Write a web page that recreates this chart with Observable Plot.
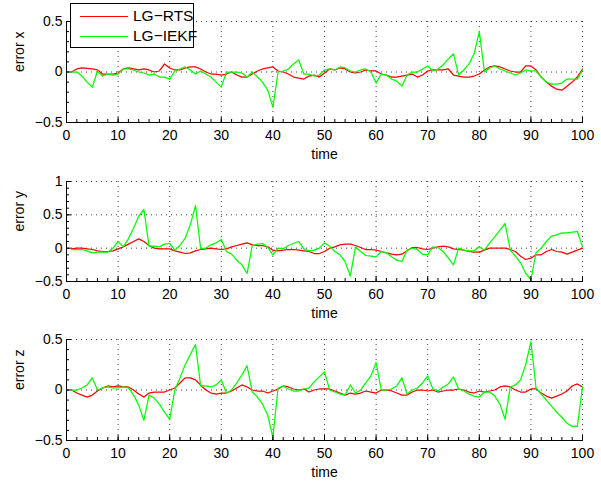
<!DOCTYPE html>
<html>
<head>
<meta charset="utf-8">
<script src="https://cdn.jsdelivr.net/npm/d3@7"></script>
<script src="https://cdn.jsdelivr.net/npm/@observablehq/plot@0.6"></script>
<style>
  html, body { margin: 0; padding: 0; background: #fff; }
  #chart { position: relative; width: 601px; height: 482px; font-family: "Liberation Sans", Arial, Helvetica, sans-serif; }
  #chart svg { display: block; }
  .legend { position: absolute; left: 70px; top: 3px; width: 124px; height: 45px; border: 1px solid #000; background: #fff; box-sizing: border-box; font-size: 15.5px; }
  .legend .row { position: absolute; left: 0; height: 18px; width: 123px; }
  .legend .sw { position: absolute; left: 9px; width: 48px; top: 9px; height: 0; border-top: 1.3px solid; }
  .legend .lb { position: absolute; left: 62px; top: 0; line-height: 18px; white-space: nowrap; }
</style>
</head>
<body>
<div id="chart"></div>
<script>
// ---- data ----
const time = d3.range(1, 101);
const seriesNames = ["LG\u2212RTS", "LG\u2212IEKF"];
const seriesColors = ["#ff0000", "#00ff00"];
const panelLabels = ["error x", "error y", "error z"];
const xTickValues = [0, 10, 20, 30, 40, 50, 60, 70, 80, 90, 100];
const yTicks1 = [-0.5, 0, 0.5];
const yTicks2 = [-0.5, 0, 0.5, 1];
const yTicks3 = [-0.5, 0, 0.5];

const xRTS = [0,0.03,0.04,0.035,0.03,0.02,-0.02,-0.02,-0.02,-0.01,
  0.03,0.04,0.03,0.02,0.03,0.02,0.0,0.01,0.08,0.04,
  0.02,0.02,0.04,0.05,0.05,0.03,0.0,-0.02,-0.02,-0.03,
  -0.02,0.0,-0.03,-0.05,-0.05,-0.02,0.01,0.03,0.04,0.05,
  0.01,0.0,-0.02,-0.05,-0.06,-0.07,-0.04,-0.03,-0.05,-0.01,
  0.03,0.02,0.04,0.03,0.0,-0.01,0.0,0.02,0.01,0.01,
  -0.02,-0.03,-0.05,-0.05,-0.04,-0.03,-0.02,-0.05,-0.03,0.01,
  0.02,0.02,0.02,0.03,-0.03,-0.04,-0.05,-0.05,-0.04,-0.02,
  0.02,0.05,0.06,0.05,0.03,0.01,0.0,0.0,0.06,0.06,
  0.02,-0.05,-0.1,-0.14,-0.17,-0.18,-0.14,-0.1,-0.05,0.03];
const xIEKF = [0,0,-0.04,-0.1,-0.15,0.01,-0.04,-0.02,-0.03,-0.02,
  0.03,0.03,0.02,0.0,-0.01,-0.03,-0.02,-0.05,-0.05,-0.07,
  0.01,0.03,0.05,0.02,-0.02,0.01,-0.02,-0.05,-0.1,-0.15,
  0.0,0.0,0.0,-0.01,-0.05,0.0,-0.05,-0.1,-0.18,-0.35,
  0.0,0.01,0.03,0.08,0.12,-0.02,-0.02,-0.04,-0.03,0.02,
  0.03,0.02,0.05,0.04,0.01,0.0,0.02,0.03,0.0,-0.11,
  -0.02,-0.03,-0.07,-0.09,-0.14,-0.03,0.0,0.0,0.03,0.06,
  0.01,0.03,0.07,0.13,0.18,-0.03,0.02,0.08,0.18,0.4,
  0.0,0.04,0.06,0.03,0.01,-0.01,-0.03,-0.01,0.02,0.01,
  0.01,-0.05,-0.1,-0.12,-0.12,-0.11,-0.07,-0.07,-0.07,0.02];
const yRTS = [-0.01,0,0,-0.01,-0.02,-0.04,-0.05,-0.05,-0.04,-0.01,
  0.02,0.06,0.1,0.14,0.1,0.04,0.0,-0.01,-0.01,-0.01,
  -0.04,-0.06,-0.08,-0.07,-0.04,-0.02,-0.01,0.0,-0.01,-0.02,
  -0.01,0.02,0.04,0.06,0.08,0.05,0.04,0.04,0.02,-0.03,
  -0.04,-0.03,-0.02,-0.02,-0.03,-0.04,-0.05,-0.08,-0.08,-0.05,
  0.0,0.02,0.05,0.06,0.06,0.04,0.01,-0.02,-0.02,-0.03,
  -0.05,-0.07,-0.09,-0.1,-0.09,-0.04,0.01,0.01,-0.01,-0.02,
  0.0,0.02,0.03,0.02,-0.01,-0.02,-0.03,-0.05,-0.06,-0.06,
  -0.03,0.0,0.0,0.0,0.0,-0.02,-0.05,-0.12,-0.17,-0.15,
  -0.1,-0.1,-0.05,-0.02,-0.05,-0.06,-0.09,-0.06,-0.03,0.0];
const yIEKF = [-0.02,-0.02,-0.02,-0.04,-0.07,-0.06,-0.06,-0.06,0.0,0.1,
  0.02,0.14,0.3,0.48,0.58,0.03,0.03,0.02,0.06,0.07,
  -0.03,0.04,0.15,0.35,0.64,-0.01,0.0,0.05,0.08,0.13,
  -0.05,-0.09,-0.18,-0.25,-0.38,0.04,0.06,0.07,0.01,-0.1,
  0.0,-0.01,0.04,0.07,0.1,-0.01,-0.04,-0.03,0.0,0.08,
  0.03,-0.05,-0.1,-0.2,-0.42,0.02,-0.05,-0.11,-0.12,-0.13,
  -0.05,-0.07,-0.13,-0.18,-0.2,-0.03,0.0,-0.02,-0.09,-0.1,
  0.02,0.01,-0.05,-0.15,-0.25,0.0,-0.03,-0.04,-0.04,0.02,
  -0.03,0.08,0.17,0.27,0.37,-0.03,-0.12,-0.22,-0.38,-0.47,
  -0.07,0.0,0.1,0.18,0.2,0.23,0.23,0.24,0.25,0.02];
const zRTS = [0,-0.03,-0.05,-0.07,-0.05,-0.01,0.02,0.04,0.03,0.04,
  0.03,0.03,0.0,-0.04,-0.07,-0.03,-0.02,-0.02,-0.02,0.0,
  0.02,0.07,0.12,0.12,0.1,0.05,0.0,-0.03,-0.04,-0.03,
  -0.03,-0.01,0.02,0.05,0.03,0.0,-0.01,-0.01,-0.03,-0.01,
  0.01,0.04,0.03,0.01,0.0,0.01,-0.02,0.0,0.01,0.01,
  0.01,-0.01,-0.03,-0.05,-0.03,-0.04,-0.03,-0.01,-0.02,-0.03,
  0.0,0.0,-0.01,-0.03,-0.05,-0.05,-0.02,0.0,0.0,-0.01,
  0.0,-0.02,-0.01,0.0,0.0,0.01,0.0,-0.02,-0.03,-0.01,
  -0.02,-0.01,0.0,0.03,0.04,0.03,0.0,-0.02,-0.02,0.01,
  0.01,-0.03,-0.06,-0.08,-0.06,-0.04,-0.01,0.04,0.06,0.03];
const zIEKF = [0,0.0,0.02,0.05,0.12,0.0,0.02,0.03,0.02,0.02,
  0.03,0.02,-0.05,-0.15,-0.3,-0.05,-0.08,-0.14,-0.22,-0.29,
  0.0,0.12,0.25,0.35,0.45,0.04,0.04,0.03,0.05,0.1,
  -0.03,0.0,0.07,0.15,0.24,-0.02,-0.07,-0.14,-0.25,-0.47,
  0.02,0.04,0.01,-0.01,-0.01,0.01,0.02,0.08,0.13,0.18,
  0.0,-0.02,-0.04,-0.05,0.05,-0.03,0.0,0.07,0.14,0.27,
  0.0,0.0,0.01,0.04,0.12,-0.04,0.0,0.02,0.07,0.14,
  0.01,-0.01,0.03,0.06,0.13,0.01,-0.01,-0.04,-0.06,-0.07,
  -0.02,-0.02,-0.06,-0.14,-0.29,0.03,0.05,0.1,0.25,0.48,
  0.02,-0.04,-0.1,-0.16,-0.22,-0.27,-0.33,-0.36,-0.36,0.03];

// ---- drawing ----
const W = 601, ML = 66, MR = 19;
const panels = [
  {label: panelLabels[0], rts: xRTS, iekf: xIEKF, domain: [-0.5, 0.5], ticks: yTicks1, h: 160, mt: 21, mb: 38},
  {label: panelLabels[1], rts: yRTS, iekf: yIEKF, domain: [-0.5, 1], ticks: yTicks2, h: 160, mt: 21, mb: 39},
  {label: panelLabels[2], rts: zRTS, iekf: zIEKF, domain: [-0.5, 0.5], ticks: yTicks3, h: 162, mt: 19, mb: 42}
];
const chart = document.getElementById("chart");
const xMinor = d3.range(0, 101, 2);

for (const p of panels) {
  const rows = time.map((t, i) => ({t, rts: p.rts[i], iekf: p.iekf[i]}));
  const ph = p.h - p.mt - p.mb;
  const pw = W - ML - MR;
  const yMinor = d3.range(Math.round(p.domain[0] * 10), Math.round(p.domain[1] * 10) + 1).map(d => d / 10);
  const svg = Plot.plot({
    width: W, height: p.h,
    marginLeft: ML, marginRight: MR, marginTop: p.mt, marginBottom: p.mb,
    style: {fontFamily: '"Liberation Sans", Arial, Helvetica, sans-serif', fontSize: "14px", background: "#fff", overflow: "visible", color: "#000"},
    x: {domain: [0, 100], ticks: xTickValues, label: null},
    y: {domain: p.domain, ticks: p.ticks, label: null},
    marks: [
      Plot.gridX(xTickValues, {stroke: "#000", strokeOpacity: 0.75, strokeDasharray: "1,4"}),
      Plot.gridY(p.ticks, {stroke: "#000", strokeOpacity: 0.75, strokeDasharray: "1,4"}),
      Plot.line(rows, {x: "t", y: "rts", stroke: seriesColors[0], strokeWidth: 1.25}),
      Plot.line(rows, {x: "t", y: "iekf", stroke: seriesColors[1], strokeWidth: 1.25}),
      Plot.tickX(xMinor, {x: d => d, stroke: "#000", insetTop: ph - 3}),
      Plot.tickX(xTickValues, {x: d => d, stroke: "#000", insetTop: ph - 5}),
      Plot.tickY(yMinor, {y: d => d, stroke: "#000", insetRight: pw - 3}),
      Plot.tickY(p.ticks, {y: d => d, stroke: "#000", insetRight: pw - 5}),
      Plot.frame({anchor: "left", stroke: "#000"}),
      Plot.frame({anchor: "bottom", stroke: "#000"}),
      Plot.axisX(xTickValues, {tickSize: 0, tickPadding: 8, label: null, fontSize: 14}),
      Plot.axisY(p.ticks, {tickSize: 0, tickPadding: 4, label: null, fontSize: 14, tickFormat: d => d3.format("~g")(d).replace("-", "\u2212")}),
      Plot.text(["time"], {text: d => d, frameAnchor: "bottom", dy: 36, fontSize: 14}),
      Plot.text([p.label], {text: d => d, frameAnchor: "left", dx: -47, rotate: -90, fontSize: 14})
    ]
  });
  chart.appendChild(svg);
}

// legend
const legend = document.createElement("div");
legend.className = "legend";
seriesNames.forEach((name, i) => {
  const row = document.createElement("div");
  row.className = "row";
  row.style.top = (3 + i * 20) + "px";
  const sw = document.createElement("div");
  sw.className = "sw";
  sw.style.borderTopColor = seriesColors[i];
  const lb = document.createElement("div");
  lb.className = "lb";
  lb.textContent = name;
  row.appendChild(sw); row.appendChild(lb);
  legend.appendChild(row);
});
chart.appendChild(legend);
</script>
</body>
</html>
